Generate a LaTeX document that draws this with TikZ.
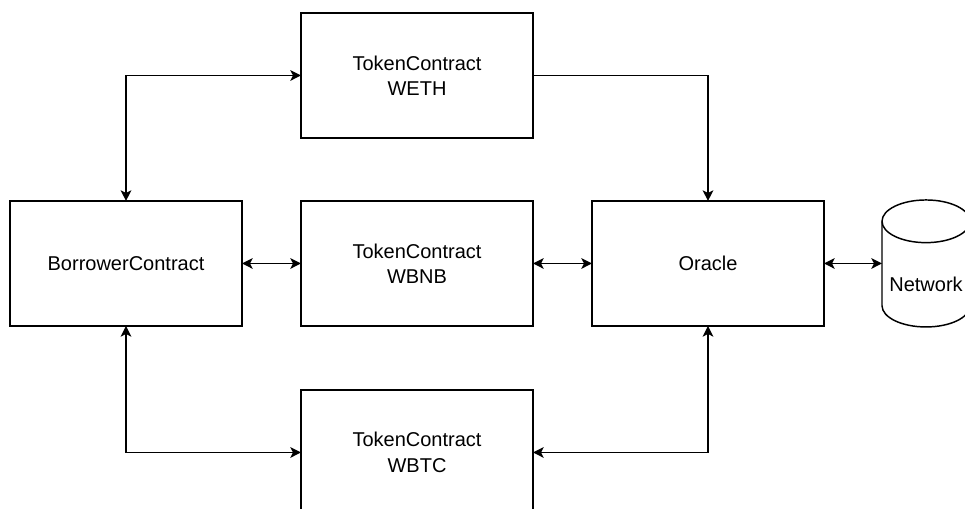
\documentclass[tikz,border=0pt]{standalone}
\usepackage{fontspec}
\setmainfont{Liberation Sans}
\usetikzlibrary{arrows.meta,positioning}
\tikzset{
  card/.style={draw=black, line width=1.1pt, minimum width=174pt, minimum height=93.75pt, align=center, inner sep=0pt, outer sep=0pt, fill=none},
  store/.style={minimum width=66pt, minimum height=95.25pt, inner sep=0pt, outer sep=0pt},
  cylline/.style={line width=1.1pt, draw=black},
  flow/.style={{Stealth[length=8pt,width=8pt,inset=2pt]}-{Stealth[length=8pt,width=8pt,inset=2pt]}, line width=1.1pt, draw=black},
  oneway/.style={-{Stealth[length=8pt,width=8pt,inset=2pt]}, line width=1.1pt, draw=black}
}

\begin{document}
\begin{tikzpicture}[font=\fontsize{15}{19}\selectfont, node distance=47.25pt and 44.25pt]
  \useasboundingbox (0,0) rectangle (723.75pt,-381.75pt);
  \node[card] (borrower) at (94.5pt,-197.6pt) {BorrowerContract};
  \node[card, right=of borrower] (wbnb) {TokenContract\\WBNB};
  \node[card, right=of wbnb] (oracle) {Oracle};
  \node[card, above=of wbnb] (weth) {TokenContract\\WETH};
  \node[card, below=48pt of wbnb] (wbtc) {TokenContract\\WBTC};
  \node[store, right=43.5pt of oracle] (network) {};
  \node (netlabel) at ([yshift=-16pt]network.center) {Network};

  % cylinder outline
  \draw[cylline] ([yshift=-16pt]network.north west) -- ([yshift=16pt]network.south west)
    arc[start angle=180, end angle=360, x radius=33pt, y radius=16pt]
    -- ([yshift=-16pt]network.north east);
  \draw[cylline] ([yshift=-16pt]network.north) ellipse[x radius=33pt, y radius=16pt];

  \draw[flow] (borrower.north) |- (weth.west);
  \draw[oneway] (weth.east) -| (oracle.north);
  \draw[flow] (borrower.east) -- (wbnb.west);
  \draw[flow] (wbnb.east) -- (oracle.west);
  \draw[flow] (oracle.east) -- (network.west);
  \draw[flow] (borrower.south) |- (wbtc.west);
  \draw[flow] (oracle.south) |- (wbtc.east);
\end{tikzpicture}
\end{document}
